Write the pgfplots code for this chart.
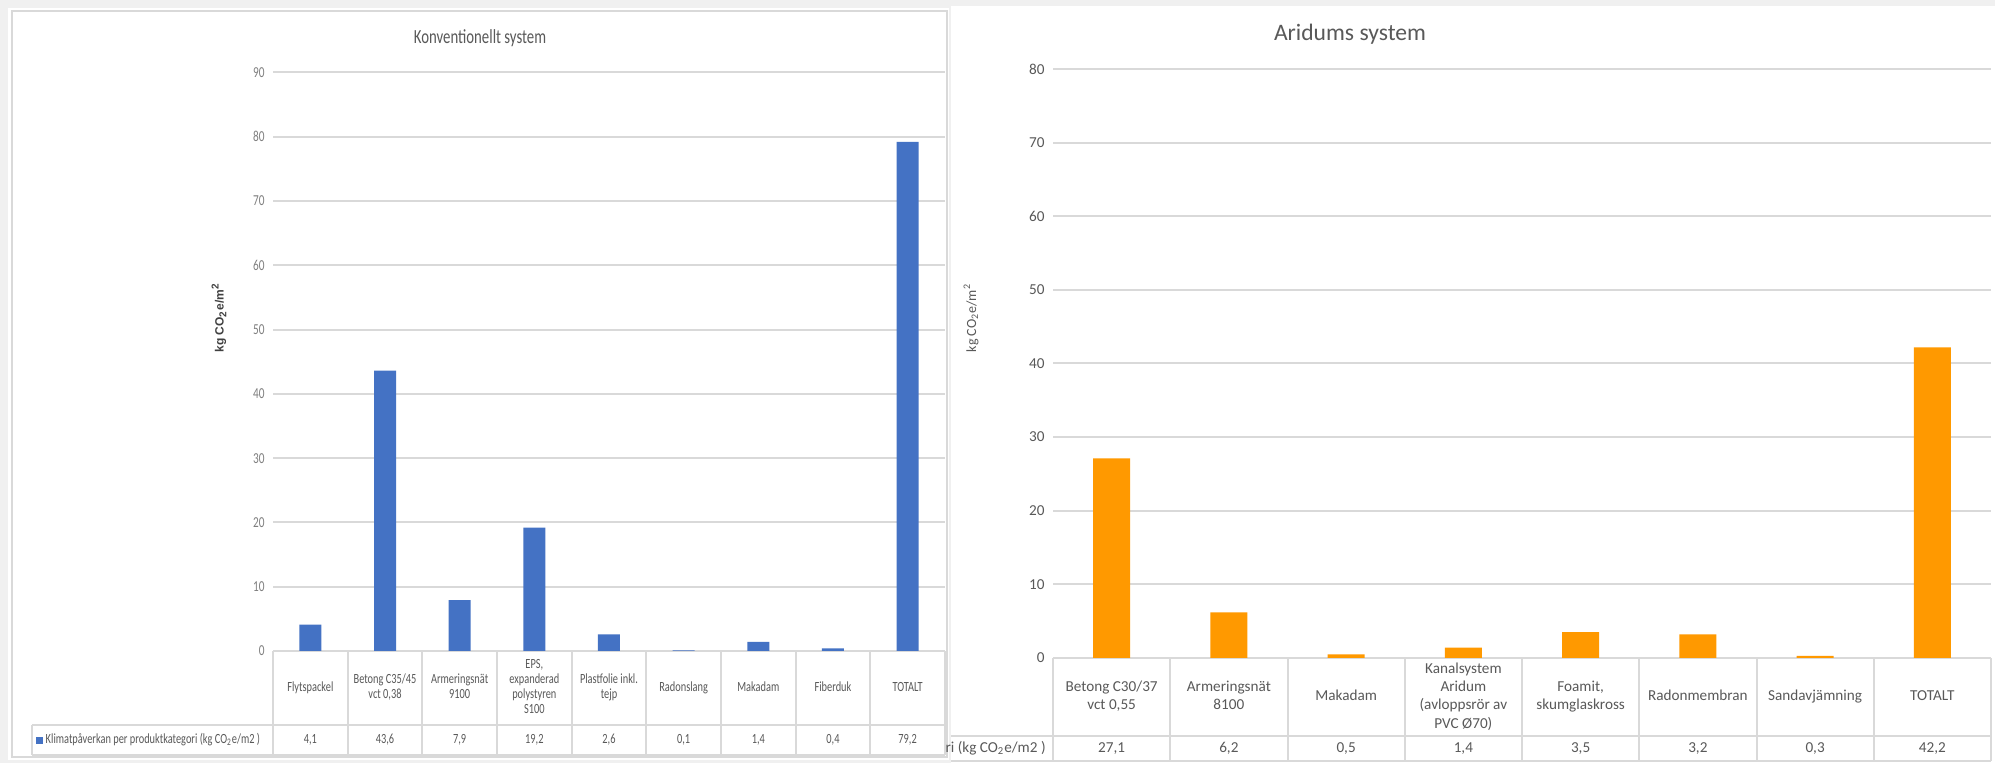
\documentclass[border=0pt]{standalone}
\usepackage{pgfplots}
\pgfplotsset{compat=1.18}
\usepackage{fontspec}
\setmainfont{Carlito}
\newfontfamily\cond[FakeStretch=0.74]{Carlito}
\newfontfamily\arialb{Liberation Sans}

\definecolor{barblue}{HTML}{4472C4}
\definecolor{barorange}{HTML}{FF9900}
\definecolor{gridgray}{HTML}{D9D9D9}
\definecolor{txtgray}{HTML}{595959}
\definecolor{tickgray}{HTML}{7F7F7F}
\definecolor{bggray}{HTML}{F0F0F0}

% table cell under a category: name row, then value row
\newcommand\lcell[2]{\vbox{%
  \hbox to 37pt{\hss\vbox to 37pt{\vss\hbox{\begin{tabular}{@{}c@{}}#1\end{tabular}}\vss}\hss}%
  \nointerlineskip
  \hbox to 37pt{\hss\vbox to 15pt{\vss\hbox{#2}\vss}\hss}}}
\newcommand\rcell[2]{\vbox{%
  \hbox to 58pt{\hss\vbox to 39pt{\vss\hbox{\begin{tabular}{@{}c@{}}#1\end{tabular}}\vss}\hss}%
  \nointerlineskip
  \hbox to 58pt{\hss\vbox to 12.5pt{\vss\hbox{#2}\vss}\hss}}}
\newcommand\unit{kg CO\textsubscript{2}e/m\textsuperscript{2}}

\begin{document}
\begin{tikzpicture}
% backgrounds
\fill[bggray] (0,0) rectangle (997.5pt,381.5pt);
\fill[white] (4pt,1.5pt) rectangle (474.5pt,377.5pt);
\draw[gridgray, line width=0.8pt] (6pt,3pt) rectangle (473.5pt,376pt);
\fill[white] (475.5pt,0pt) rectangle (997.5pt,378.5pt);

% ---------- Konventionellt system ----------
\begin{axis}[
    at={(136.5pt,56pt)}, anchor=south west,
    scale only axis, width=336pt, height=289.25pt,
    ybar, bar width=11pt,
    xmin=-0.5, xmax=8.5, ymin=0, ymax=90,
    ytick={0,10,...,90},
    xtick={0,...,8},
    minor xtick={-0.5,0.5,...,8.5},
    tick pos=left, tick align=outside,
    major tick length=0pt, minor tick length=52pt,
    minor tick style={draw=gridgray, line width=1pt},
    axis line style={draw=none},
    ymajorgrids, major grid style={draw=gridgray, line width=1pt},
    /pgf/number format/assume math mode=true,
    yticklabel style={font=\cond\fontsize{7.6}{8}\selectfont, text=tickgray,
        anchor=east, inner sep=0pt, xshift=-4pt},
    xticklabel style={font=\cond\fontsize{7}{7.6}\selectfont, text=txtgray,
        anchor=north, inner sep=0pt, outer sep=0pt},
    xticklabels={
        {\lcell{Flytspackel}{4,1}},
        {\lcell{Betong C35/45\\vct 0,38}{43,6}},
        {\lcell{Armeringsnät\\9100}{7,9}},
        {\lcell{EPS,\\expanderad\\polystyren\\S100}{19,2}},
        {\lcell{Plastfolie inkl.\\tejp}{2,6}},
        {\lcell{Radonslang}{0,1}},
        {\lcell{Makadam}{1,4}},
        {\lcell{Fiberduk}{0,4}},
        {\lcell{TOTALT}{79,2}}},
]
\addplot[fill=barblue, draw=none] coordinates {
    (0,4.1) (1,43.6) (2,7.9) (3,19.2) (4,2.6) (5,0.1) (6,1.4) (7,0.4) (8,79.2)
};
\end{axis}

% ---------- Aridums system ----------
\begin{axis}[
    at={(526.5pt,52.5pt)}, anchor=south west,
    scale only axis, width=469pt, height=294.5pt,
    ybar, bar width=18.5pt,
    xmin=-0.5, xmax=7.5, ymin=0, ymax=80,
    ytick={0,10,...,80},
    xtick={0,...,7},
    minor xtick={-0.5,0.5,...,7.5},
    tick pos=left, tick align=outside,
    major tick length=0pt, minor tick length=51.5pt,
    minor tick style={draw=gridgray, line width=1pt},
    axis line style={draw=none},
    ymajorgrids, major grid style={draw=gridgray, line width=1pt},
    /pgf/number format/assume math mode=true,
    yticklabel style={font=\fontsize{7.6}{9}\selectfont, text=txtgray,
        anchor=east, inner sep=0pt, xshift=-4pt},
    xticklabel style={font=\fontsize{7.6}{9.2}\selectfont, text=txtgray,
        anchor=north, inner sep=0pt, outer sep=0pt},
    xticklabels={
        {\rcell{Betong C30/37\\vct 0,55}{27,1}},
        {\rcell{Armeringsnät\\8100}{6,2}},
        {\rcell{Makadam}{0,5}},
        {\rcell{Kanalsystem\\Aridum\\(avloppsrör av\\PVC Ø70)}{1,4}},
        {\rcell{Foamit,\\skumglaskross}{3,5}},
        {\rcell{Radonmembran}{3,2}},
        {\rcell{Sandavjämning}{0,3}},
        {\rcell{TOTALT}{42,2}}},
]
\addplot[fill=barorange, draw=none] coordinates {
    (0,27.1) (1,6.2) (2,0.5) (3,1.4) (4,3.5) (5,3.2) (6,0.3) (7,42.2)
};
\end{axis}

% table rules
\draw[gridgray, line width=1pt] (16pt,19pt) -- (472.5pt,19pt)
    (16pt,4pt) -- (472.5pt,4pt) (16pt,4pt) -- (16pt,19pt);
\draw[gridgray, line width=1pt] (475.5pt,13.5pt) -- (995.5pt,13.5pt)
    (475.5pt,1pt) -- (995.5pt,1pt);

% legend cells
\node[anchor=west, inner sep=0pt, text=txtgray, font=\cond\fontsize{7}{8}\selectfont]
    at (18pt,11.5pt) {\textcolor{barblue}{\rule{3.5pt}{3.5pt}}\ Klimatpåverkan per produktkategori (kg CO\textsubscript{2}e/m2 )};
\node[anchor=east, inner sep=0pt, text=txtgray, font=\fontsize{7.6}{9}\selectfont]
    at (523pt,7.25pt) {ri (kg CO\textsubscript{2}e/m2 )};

% titles and axis labels
\node[text=txtgray, font=\cond\fontsize{10}{12}\selectfont] at (240pt,362.5pt) {Konventionellt system};
\node[text=txtgray, font=\fontsize{11.8}{14}\selectfont] at (675pt,364.5pt) {Aridums system};
\node[rotate=90, text=black!75, font=\arialb\bfseries\fontsize{6}{7}\selectfont] at (109.5pt,222.5pt) {\unit};
\node[rotate=90, text=txtgray, font=\fontsize{7}{8}\selectfont] at (485.5pt,222.5pt) {\unit};

\pgfresetboundingbox
\path (0,0) rectangle (997.5pt,381.5pt);
\end{tikzpicture}
\end{document}
